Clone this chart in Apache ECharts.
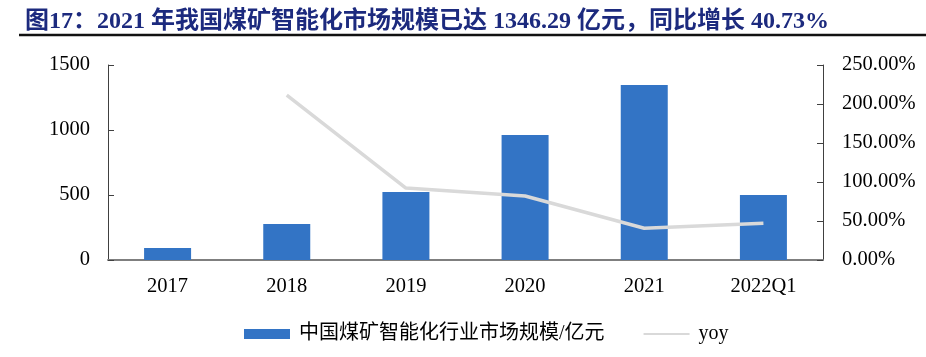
<!DOCTYPE html>
<html>
<head>
<meta charset="utf-8">
<script src="https://cdn.jsdelivr.net/npm/echarts@6/dist/echarts.min.js"></script>
<style>html,body{margin:0;padding:0;background:#fff;}#c{width:926px;height:357px;}</style>
</head>
<body>
<div id="c"></div>
<script>
var categories = ['2017', '2018', '2019', '2020', '2021', '2022Q1'];
var marketSize = [92, 277, 523, 962, 1346.29, 500];
var yoy = [null, 211.5, 92.3, 82.0, 40.73, 47.0];
var leftTicks = {min: 0, max: 1500, interval: 500};
var rightTicks = {min: 0, max: 250, interval: 50};
var titleText = '图17：2021 年我国煤矿智能化市场规模已达 1346.29 亿元，同比增长 40.73%';
var barName = '中国煤矿智能化行业市场规模/亿元';
var lineName = 'yoy';

var serif = "'Liberation Serif', 'Noto Sans CJK SC', serif";
var chart = echarts.init(document.getElementById('c'));
chart.setOption({
  animation: false,
  backgroundColor: '#fff',
  title: {
    text: titleText, left: 20, top: 5,
    textStyle: {fontFamily: serif, fontSize: 24, fontWeight: 'bold', color: '#1C2A7E'}
  },
  graphic: [{
    type: 'line', shape: {x1: 19, y1: 35, x2: 926, y2: 35},
    style: {stroke: '#111', lineWidth: 2.5}
  }],
  legend: {
    top: 319, left: 239, itemGap: 38, itemWidth: 46, itemHeight: 10,
    textStyle: {fontFamily: serif, fontSize: 20, color: '#000', padding: [0, 0, 0, 4]},
    data: [{name: barName, icon: 'rect'}, {name: lineName, itemStyle: {opacity: 0}}]
  },
  grid: {left: 108, right: 103, top: 65, bottom: 97},
  xAxis: {
    type: 'category', data: categories,
    axisLine: {lineStyle: {color: '#7f7f7f', width: 2}},
    axisTick: {inside: true, length: 6, lineStyle: {color: '#404040'}},
    axisLabel: {fontFamily: serif, fontSize: 20.5, color: '#000', margin: 16}
  },
  yAxis: [{
    type: 'value', min: leftTicks.min, max: leftTicks.max, interval: leftTicks.interval,
    axisLine: {show: true, lineStyle: {color: '#404040'}},
    axisTick: {show: true, inside: true, length: 6, lineStyle: {color: '#404040'}},
    splitLine: {show: false},
    axisLabel: {fontFamily: serif, fontSize: 20.5, color: '#000', margin: 18,
      formatter: function (v) { return String(v); }}
  }, {
    type: 'value', min: rightTicks.min, max: rightTicks.max, interval: rightTicks.interval,
    axisLine: {show: true, lineStyle: {color: '#404040'}},
    axisTick: {show: true, inside: true, length: 6, lineStyle: {color: '#404040'}},
    splitLine: {show: false},
    axisLabel: {fontFamily: serif, fontSize: 20.5, color: '#000', margin: 19,
      formatter: function (v) { return v.toFixed(2) + '%'; }}
  }],
  series: [{
    name: barName, type: 'bar', data: marketSize, barWidth: 47,
    itemStyle: {color: '#3374C5'}
  }, {
    name: lineName, type: 'line', yAxisIndex: 1, data: yoy,
    symbol: 'none', lineStyle: {color: '#D9D9D9', width: 3.5},
    itemStyle: {color: '#D9D9D9'}
  }]
});
</script>
</body>
</html>
